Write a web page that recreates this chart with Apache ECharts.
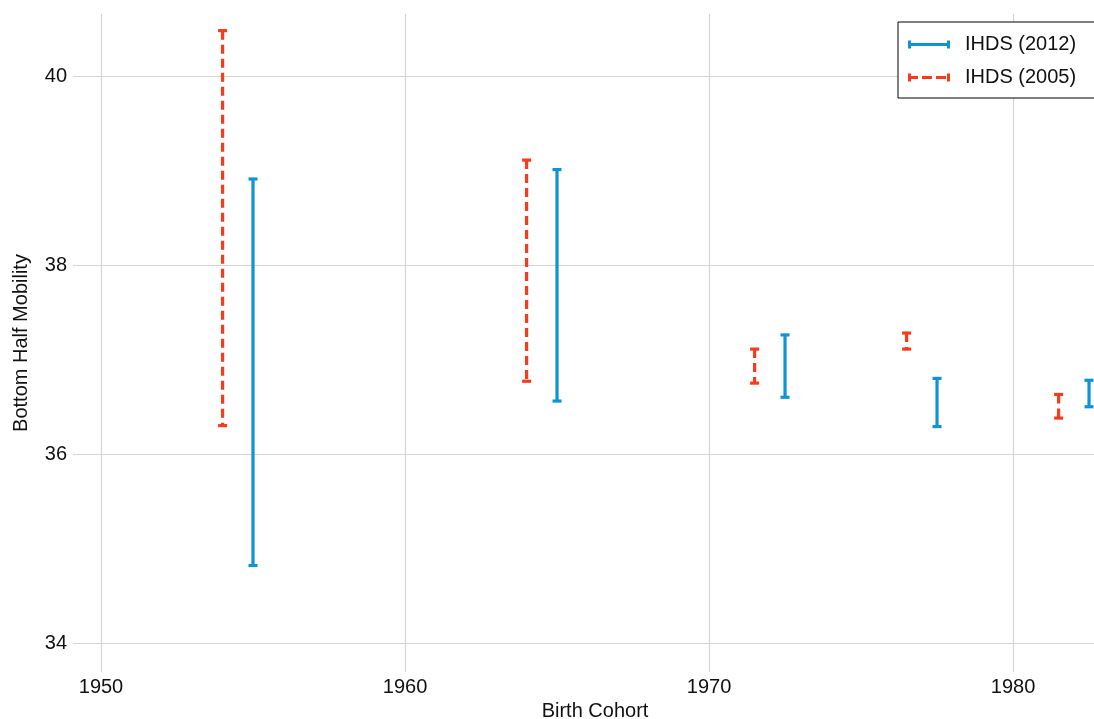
<!DOCTYPE html>
<html>
<head>
<meta charset="utf-8">
<script src="https://cdn.jsdelivr.net/npm/echarts@6/dist/echarts.min.js"></script>
<style>
	html, body { margin: 0; padding: 0; background: #fff; }
	#chart { width: 1094px; height: 719px; }
</style>
</head>
<body>
<div id="chart"></div>
<script>
// IHDS (2012)
var cohorts2012 = [1955, 1965, 1972.5, 1977.5, 1982.5];
var low2012 = [34.82, 36.56, 36.60, 36.29, 36.50];
var high2012 = [38.91, 39.01, 37.26, 36.80, 36.78];
// IHDS (2005)
var cohorts2005 = [1954, 1964, 1971.5, 1976.5, 1981.5];
var low2005 = [36.30, 36.77, 36.75, 37.11, 36.38];
var high2005 = [40.48, 39.11, 37.11, 37.28, 36.63];

var seriesNames = ['IHDS (2012)', 'IHDS (2005)'];
var xTicks = [1950, 1960, 1970, 1980];
var yTicks = [34, 36, 38, 40];

var blue = '#0e93d9';
var red = '#fa3a1c';
var font = 'Liberation Sans, Arial, Helvetica, sans-serif';

function rows(xs, lo, hi) {
	var out = [];
	for (var i = 0; i < xs.length; i++) {
		out.push([xs[i], lo[i], hi[i]]);
	}
	return out;
}

function errorBar(dashed) {
	return function(params, api) {
		var x = api.value(0);
		var lo = api.coord([x, api.value(1)]);
		var hi = api.coord([x, api.value(2)]);
		var half = 4.5;
		var color = api.visual('color');
		return {
			type: 'group',
			children: [{
				type: 'line',
				shape: { x1: lo[0], y1: hi[1], x2: lo[0], y2: lo[1] },
				style: { stroke: color, lineWidth: 3.2, lineDash: dashed ? [9, 5] : null }
			}, {
				type: 'line',
				shape: { x1: hi[0] - half, y1: hi[1], x2: hi[0] + half, y2: hi[1] },
				style: { stroke: color, lineWidth: 3.2 }
			}, {
				type: 'line',
				shape: { x1: lo[0] - half, y1: lo[1], x2: lo[0] + half, y2: lo[1] },
				style: { stroke: color, lineWidth: 3.2 }
			}]
		};
	};
}

var myChart = echarts.init(document.getElementById('chart'), null, { renderer: 'canvas' });
var option = {
	animation: false,
	backgroundColor: '#fff',
	textStyle: { fontFamily: font },
	grid: {
		left: 73,
		top: 14,
		width: 1044,
		height: 658,
		containLabel: false,
		outerBoundsMode: 'none'
	},
	legend: {
		orient: 'vertical',
		left: 898,
		top: 22,
		padding: [12, 90, 10, 10],
		itemGap: 12,
		itemWidth: 42,
		itemHeight: 8,
		backgroundColor: '#fff',
		borderColor: '#000',
		borderWidth: 1,
		borderRadius: 0,
		textStyle: { fontSize: 20, color: '#111', fontFamily: font, padding: [0, 0, 0, 10], lineHeight: 21 },
		data: [{
			name: seriesNames[0],
			icon: 'path://M0,0H3V2.5H39V0H42V8H39V5.5H3V8H0Z'
		}, {
			name: seriesNames[1],
			icon: 'path://M0,0H3V2.5H10V5.5H3V8H0Z M14,2.5H24V5.5H14Z M28,2.5H38V5.5H28Z M39,0H42V8H39Z'
		}]
	},
	xAxis: {
		type: 'value',
		min: 1949.079,
		max: 1983.42,
		name: 'Birth Cohort',
		nameLocation: 'middle',
		nameGap: 24,
		nameTextStyle: { fontSize: 20, color: '#111', fontFamily: font },
		axisLine: { show: false },
		axisTick: { show: false, customValues: xTicks },
		axisLabel: {
			customValues: xTicks,
			fontSize: 20,
			color: '#111',
			margin: 5,
			fontFamily: font,
			formatter: function(v) { return String(v); }
		},
		splitLine: { show: true, lineStyle: { color: '#d4d4d4', width: 1.2 } }
	},
	yAxis: {
		type: 'value',
		min: 33.693,
		max: 40.656,
		name: 'Bottom Half Mobility',
		nameLocation: 'middle',
		nameGap: 42,
		nameTextStyle: { fontSize: 20, color: '#111', fontFamily: font },
		axisLine: { show: false },
		axisTick: { show: false, customValues: yTicks },
		axisLabel: { customValues: yTicks, fontSize: 20, color: '#111', margin: 6, fontFamily: font },
		splitLine: { show: true, lineStyle: { color: '#d4d4d4', width: 1.2 } }
	},
	series: [{
		name: seriesNames[0],
		type: 'custom',
		color: blue,
		renderItem: errorBar(false),
		encode: { x: 0, y: [1, 2] },
		data: rows(cohorts2012, low2012, high2012)
	}, {
		name: seriesNames[1],
		type: 'custom',
		color: red,
		renderItem: errorBar(true),
		encode: { x: 0, y: [1, 2] },
		data: rows(cohorts2005, low2005, high2005)
	}]
};
myChart.setOption(option);
</script>
</body>
</html>
